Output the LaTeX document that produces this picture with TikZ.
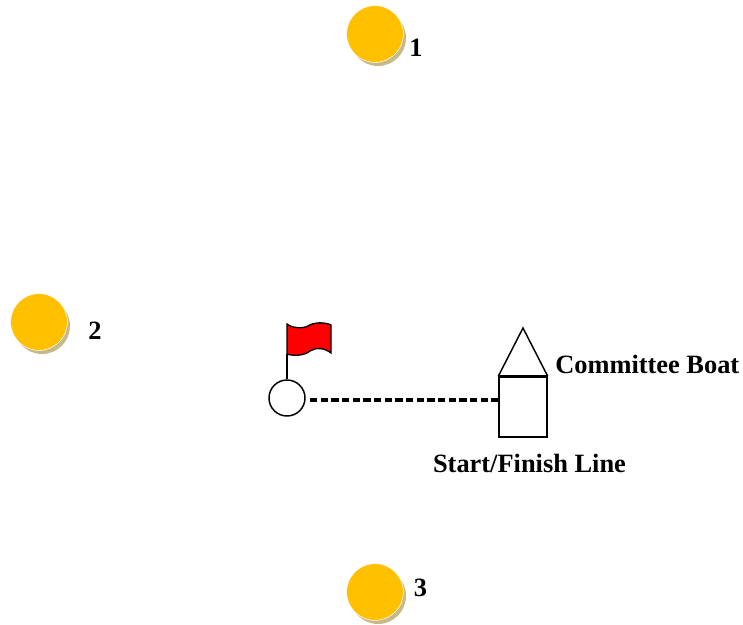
\documentclass[tikz,border=0pt]{standalone}
\usepackage{fontspec}
\setmainfont{Liberation Serif}
\usetikzlibrary{positioning,calc,shapes}
\definecolor{palBuoy}{HTML}{FFC000}
\definecolor{palShadow}{HTML}{C8B98A}
\definecolor{palFlag}{HTML}{FF0000}
\tikzset{
  buoynode/.style={circle, fill=palBuoy, draw=white, line width=0.4pt, minimum size=42.6pt, inner sep=0pt},
  shadownode/.style={circle, fill=palShadow, minimum size=42pt, inner sep=0pt},
  marklabel/.style={font=\fontsize{19.8}{22}\selectfont\bfseries, inner sep=0pt},
  marknode/.style={draw, circle, minimum size=27pt, inner sep=0pt, line width=1.1pt},
  hullnode/.style={draw, minimum width=36pt, minimum height=45pt, inner sep=0pt, line width=1.1pt},
  startline/.style={line width=2.6pt, dash pattern=on 5.6pt off 2.4pt},
}
\begin{document}
\begin{tikzpicture}[x=0.75pt, y=-0.75pt]
\useasboundingbox (0,0) rectangle (743,625);
%% Buoys
\node[shadownode] (shadowA) at (378,38) {};
\node[buoynode] (buoyA) at (375,34) {};
\node[shadownode] (shadowB) at (42,326) {};
\node[buoynode] (buoyB) at (39,322) {};
\node[shadownode] (shadowC) at (378,596) {};
\node[buoynode] (buoyC) at (375,592) {};
\node[marklabel] (labelA) at (416,48) {1};
\node[marklabel] (labelB) at (95,331) {2};
\node[marklabel] (labelC) at (420.5,588) {3};
%% Flag mark
\node[marknode] (mark) at (287,398) {};
\coordinate (flagfoot) at (287,354);
\draw[line width=1.1pt] (mark.north) -- (flagfoot);
\draw[line width=1pt, fill=palFlag] (flagfoot) -- (287,324)
  .. controls (292,328) and (302,329) .. (308,326)
  .. controls (314,322) and (325,322) .. (331,325)
  -- (331,353)
  .. controls (325,348) and (316,347) .. (310,351)
  .. controls (304,356) and (293,356) .. (287,354) -- cycle;
%% Committee boat
\node[hullnode] (hull) at (523,407) {};
\coordinate (bow) at (523,328);
\draw[line width=1.1pt, line join=miter] (hull.north west) -- (bow) -- (hull.north east);
\draw[line width=2.2pt] (hull.north west) -- (hull.north east);
\coordinate (linestart) at (310,400);
\draw[startline] (linestart) -- (linestart -| hull.west);
%% Labels
\node[marklabel, anchor=west] (boatlabel) at (555,364) {Committee Boat};
\node[marklabel] (linelabel) at (529.5,463) {Start/Finish Line};
\end{tikzpicture}
\end{document}
